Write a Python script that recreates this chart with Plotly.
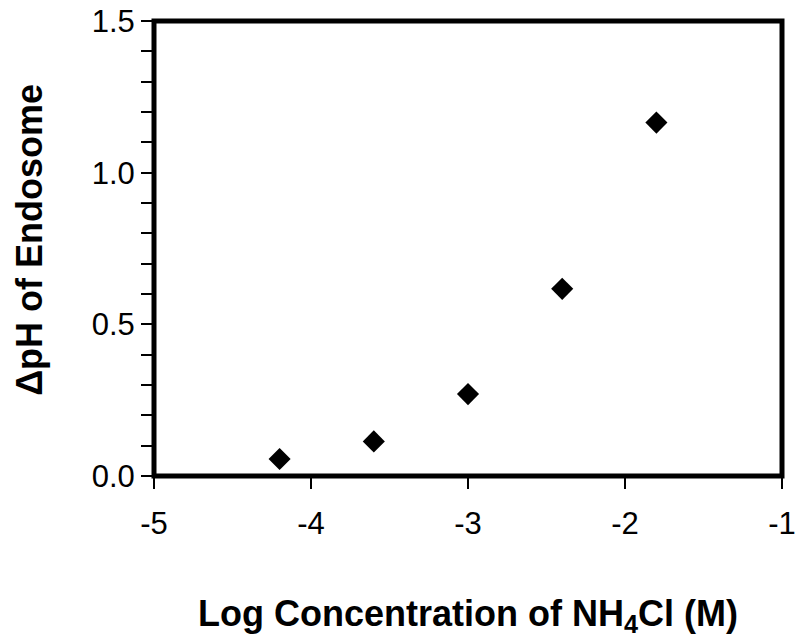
import plotly.graph_objects as go

log_conc = [-4.2, -3.6, -3.0, -2.4, -1.8]
delta_ph = [0.056, 0.114, 0.27, 0.617, 1.165]

x_ticks = [-5, -4, -3, -2, -1]
y_ticks = [0.0, 0.5, 1.0, 1.5]

fig = go.Figure()
fig.add_trace(go.Scatter(
    x=log_conc, y=delta_ph, mode="markers",
    marker=dict(symbol="diamond", size=17, color="black"),
    showlegend=False, cliponaxis=False,
))

font_fam = "Liberation Sans, Arial, sans-serif"
fig.update_layout(
    width=800, height=641,
    margin=dict(l=154, r=18, t=21, b=165),
    plot_bgcolor="white", paper_bgcolor="white",
    font=dict(family=font_fam, color="black", size=31),
    shapes=[dict(type="rect", xref="paper", yref="paper", x0=0, x1=1, y0=0, y1=1,
                 line=dict(color="black", width=5), layer="above")],
    annotations=[dict(text="<b>ΔpH of Endosome</b>", textangle=-90,
                      xref="paper", yref="paper", x=-0.1975, y=0.519,
                      xanchor="center", yanchor="middle", showarrow=False,
                      font=dict(size=36))],
)
fig.update_xaxes(
    range=[-5, -1], tickvals=x_ticks, ticktext=[str(v) for v in x_ticks],
    showgrid=False, zeroline=False, showline=False, automargin=False,
    ticks="outside", ticklen=12, tickwidth=2, tickcolor="black",
    tickfont=dict(size=31), ticklabelstandoff=8,
    title=dict(text="<b>Log Concentration of NH<sub>4</sub>Cl (M)</b>",
               font=dict(size=36), standoff=60),
)
fig.update_yaxes(
    range=[0, 1.5], tickvals=y_ticks, tickformat=".1f",
    showgrid=False, zeroline=False, showline=False, automargin=False,
    ticks="outside", ticklen=12, tickwidth=2, tickcolor="black",
    tickfont=dict(size=31),
    minor=dict(dtick=0.1, ticks="outside", ticklen=12, tickwidth=2, tickcolor="black", showgrid=False),
)
fig.write_html("out.html", config={"displayModeBar": False},
               post_script="document.body.style.margin='0';document.body.style.overflow='hidden';")
